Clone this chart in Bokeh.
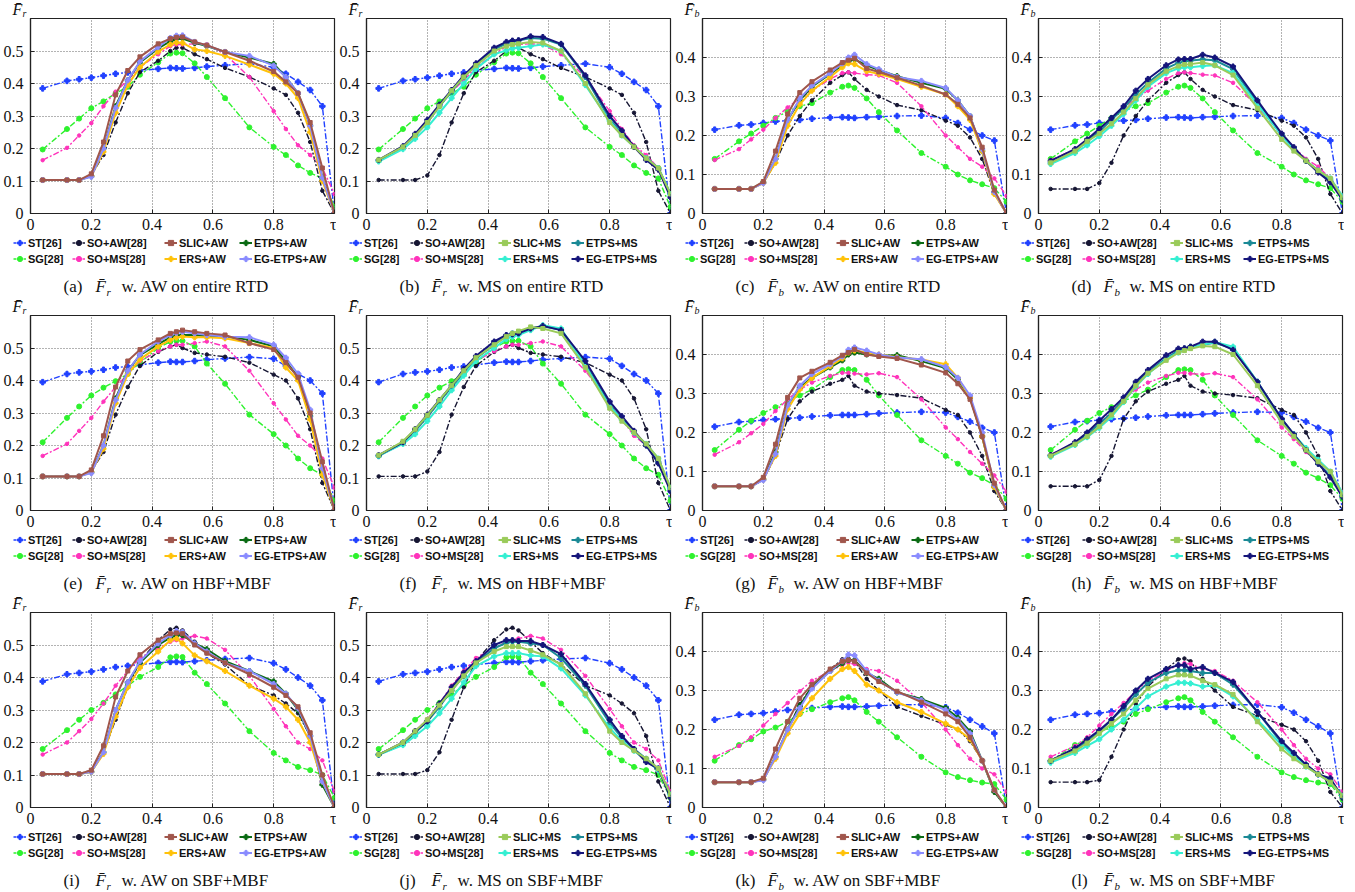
from bokeh.plotting import figure
from bokeh.layouts import column, row
from bokeh.models import Legend, LegendItem, Label, FixedTicker, Range1d, CustomJSTickFormatter
from bokeh.embed import file_html
from bokeh.resources import INLINE

TAU = [0.04, 0.12, 0.16, 0.20, 0.24, 0.28, 0.32, 0.36, 0.42, 0.46, 0.48, 0.50, 0.54, 0.58,
       0.64, 0.72, 0.80, 0.84, 0.88, 0.92, 0.96, 1.00]

# ---------------- F_r on entire RTD ----------------
RTD_FR = dict(
    ST=[0.385,0.408,0.413,0.418,0.424,0.430,0.434,0.440, 0.445,0.448,0.447,0.446,0.448,0.452, 0.456,0.461,0.450,0.430,0.405,0.380,0.330,0.000],
    SG=[0.197,0.260,0.292,0.324,0.345,0.370,0.390,0.427, 0.465,0.492,0.495,0.493,0.462,0.420, 0.355,0.265,0.205,0.180,0.148,0.125,0.108,0.020],
    SOAW=[0.103,0.103,0.103,0.117,0.180,0.280,0.370,0.435, 0.470,0.500,0.510,0.510,0.490,0.475, 0.448,0.420,0.385,0.365,0.310,0.220,0.070,0.000],
    SOMS=[0.164,0.202,0.240,0.278,0.330,0.375,0.410,0.450, 0.490,0.515,0.520,0.520,0.522,0.520, 0.490,0.420,0.315,0.260,0.210,0.180,0.140,0.060],
    SLIC_AW=[0.103,0.103,0.103,0.122,0.220,0.365,0.440,0.482, 0.522,0.538,0.542,0.543,0.528,0.518, 0.497,0.470,0.437,0.405,0.370,0.280,0.140,0.000],
    ETPS_AW=[0.103,0.103,0.103,0.115,0.200,0.330,0.410,0.465, 0.508,0.530,0.537,0.538,0.525,0.515, 0.497,0.480,0.460,0.420,0.370,0.270,0.110,0.000],
    ERS_AW=[0.103,0.103,0.103,0.115,0.190,0.310,0.395,0.450, 0.498,0.520,0.526,0.525,0.505,0.500, 0.485,0.458,0.430,0.400,0.355,0.250,0.100,0.000],
    EGETPS_AW=[0.103,0.103,0.103,0.113,0.200,0.325,0.410,0.468, 0.512,0.540,0.547,0.548,0.528,0.517, 0.497,0.485,0.455,0.420,0.370,0.270,0.110,0.000],
    SLIC_MS=[0.165,0.205,0.240,0.280,0.330,0.378,0.420,0.455, 0.500,0.515,0.520,0.522,0.528,0.525, 0.500,0.400,0.280,0.240,0.205,0.170,0.140,0.060],
    ETPS_MS=[0.163,0.205,0.240,0.280,0.330,0.375,0.420,0.458, 0.505,0.523,0.528,0.532,0.540,0.538, 0.520,0.420,0.290,0.245,0.205,0.170,0.140,0.060],
    ERS_MS=[0.160,0.198,0.230,0.265,0.310,0.355,0.400,0.445, 0.490,0.502,0.508,0.510,0.515,0.520, 0.500,0.395,0.285,0.240,0.205,0.170,0.140,0.060],
    EGETPS_MS=[0.165,0.207,0.245,0.288,0.335,0.380,0.425,0.462, 0.510,0.528,0.532,0.533,0.545,0.543, 0.522,0.425,0.300,0.255,0.205,0.165,0.135,0.050],
)

# ---------------- F_b on entire RTD ----------------
RTD_FB = dict(
    ST=[0.215,0.226,0.228,0.232,0.236,0.238,0.240,0.243, 0.246,0.247,0.246,0.245,0.247,0.248, 0.250,0.251,0.245,0.232,0.215,0.200,0.187,0.000],
    SG=[0.140,0.185,0.205,0.225,0.245,0.262,0.275,0.283, 0.310,0.325,0.328,0.322,0.295,0.260, 0.213,0.155,0.120,0.100,0.085,0.075,0.065,0.030],
    SOAW=[0.063,0.063,0.063,0.078,0.130,0.200,0.250,0.290, 0.335,0.355,0.362,0.345,0.317,0.300, 0.278,0.265,0.238,0.225,0.195,0.140,0.050,0.000],
    SOMS=[0.137,0.165,0.190,0.215,0.245,0.272,0.295,0.315, 0.345,0.360,0.362,0.360,0.356,0.354, 0.335,0.275,0.200,0.170,0.140,0.120,0.090,0.045],
    SLIC_AW=[0.063,0.063,0.063,0.082,0.160,0.255,0.310,0.338, 0.368,0.387,0.393,0.398,0.372,0.363, 0.348,0.328,0.305,0.280,0.245,0.170,0.060,0.000],
    ETPS_AW=[0.063,0.063,0.063,0.080,0.140,0.240,0.290,0.325, 0.358,0.380,0.390,0.395,0.380,0.368, 0.352,0.335,0.320,0.290,0.250,0.160,0.055,0.000],
    ERS_AW=[0.063,0.063,0.063,0.078,0.130,0.225,0.280,0.315, 0.350,0.375,0.385,0.383,0.365,0.358, 0.345,0.325,0.305,0.275,0.240,0.160,0.050,0.000],
    EGETPS_AW=[0.063,0.063,0.063,0.078,0.140,0.240,0.295,0.328, 0.360,0.385,0.400,0.407,0.383,0.370, 0.350,0.340,0.322,0.290,0.250,0.165,0.055,0.000],
    SLIC_MS=[0.130,0.160,0.185,0.205,0.230,0.260,0.295,0.330, 0.365,0.378,0.382,0.383,0.387,0.380, 0.355,0.270,0.190,0.160,0.135,0.110,0.090,0.040],
    ETPS_MS=[0.130,0.160,0.185,0.210,0.240,0.270,0.305,0.335, 0.372,0.386,0.390,0.392,0.395,0.393, 0.370,0.285,0.200,0.165,0.135,0.110,0.085,0.040],
    ERS_MS=[0.127,0.155,0.175,0.198,0.225,0.255,0.290,0.325, 0.360,0.372,0.375,0.375,0.378,0.380, 0.360,0.280,0.200,0.165,0.135,0.110,0.090,0.045],
    EGETPS_MS=[0.135,0.165,0.190,0.217,0.245,0.275,0.315,0.345, 0.380,0.395,0.396,0.396,0.407,0.400, 0.377,0.290,0.205,0.170,0.135,0.105,0.080,0.035],
)

# ---------------- F_r on HBF+MBF ----------------
HM_FR = dict(
    ST=[0.395,0.420,0.425,0.428,0.433,0.440,0.443,0.448, 0.455,0.458,0.457,0.457,0.460,0.464, 0.468,0.472,0.467,0.445,0.420,0.400,0.360,0.000],
    SG=[0.210,0.285,0.320,0.354,0.378,0.398,0.420,0.455, 0.500,0.520,0.522,0.522,0.505,0.452, 0.390,0.295,0.235,0.200,0.160,0.130,0.110,0.030],
    SOAW=[0.105,0.105,0.105,0.120,0.180,0.295,0.380,0.445, 0.488,0.505,0.510,0.500,0.485,0.480, 0.473,0.455,0.418,0.400,0.345,0.250,0.085,0.000],
    SOMS=[0.168,0.205,0.245,0.285,0.335,0.380,0.420,0.460, 0.490,0.505,0.510,0.510,0.515,0.520, 0.505,0.430,0.330,0.280,0.230,0.200,0.160,0.070],
    SLIC_AW=[0.105,0.105,0.105,0.125,0.230,0.380,0.460,0.495, 0.525,0.545,0.550,0.555,0.550,0.545, 0.540,0.515,0.495,0.455,0.410,0.300,0.150,0.000],
    ETPS_AW=[0.105,0.105,0.105,0.118,0.200,0.345,0.430,0.478, 0.512,0.533,0.538,0.540,0.540,0.537, 0.535,0.525,0.505,0.460,0.410,0.290,0.120,0.000],
    ERS_AW=[0.105,0.105,0.105,0.118,0.190,0.330,0.420,0.465, 0.505,0.525,0.532,0.535,0.533,0.533, 0.530,0.515,0.500,0.440,0.400,0.280,0.110,0.000],
    EGETPS_AW=[0.105,0.105,0.105,0.115,0.200,0.340,0.430,0.480, 0.520,0.540,0.547,0.550,0.545,0.540, 0.535,0.533,0.510,0.470,0.420,0.310,0.130,0.000],
    SLIC_MS=[0.170,0.213,0.250,0.293,0.340,0.385,0.430,0.470, 0.510,0.535,0.545,0.552,0.565,0.560, 0.545,0.440,0.315,0.275,0.240,0.205,0.160,0.070],
    ETPS_MS=[0.167,0.210,0.245,0.288,0.335,0.380,0.425,0.468, 0.510,0.538,0.545,0.548,0.560,0.567, 0.555,0.450,0.325,0.280,0.240,0.200,0.150,0.065],
    ERS_MS=[0.168,0.205,0.235,0.275,0.320,0.370,0.415,0.460, 0.500,0.528,0.535,0.540,0.555,0.570, 0.560,0.445,0.320,0.280,0.240,0.205,0.160,0.070],
    EGETPS_MS=[0.170,0.210,0.250,0.295,0.340,0.385,0.435,0.475, 0.520,0.540,0.542,0.545,0.560,0.568, 0.555,0.460,0.335,0.290,0.245,0.200,0.145,0.060],
)

# ---------------- F_b on HBF+MBF ----------------
HM_FB = dict(
    ST=[0.215,0.227,0.229,0.232,0.234,0.236,0.238,0.241, 0.244,0.245,0.245,0.245,0.247,0.249, 0.251,0.253,0.251,0.240,0.228,0.212,0.200,0.000],
    SG=[0.155,0.207,0.230,0.250,0.265,0.280,0.295,0.310, 0.342,0.360,0.362,0.360,0.335,0.295, 0.245,0.180,0.140,0.120,0.097,0.083,0.065,0.030],
    SOAW=[0.062,0.062,0.062,0.078,0.140,0.235,0.280,0.305, 0.325,0.335,0.345,0.320,0.305,0.300, 0.296,0.288,0.258,0.245,0.200,0.140,0.050,0.000],
    SOMS=[0.143,0.175,0.198,0.222,0.255,0.285,0.310,0.328, 0.345,0.353,0.353,0.351,0.349,0.352, 0.342,0.285,0.213,0.183,0.150,0.120,0.090,0.048],
    SLIC_AW=[0.062,0.062,0.062,0.085,0.170,0.290,0.340,0.357, 0.380,0.398,0.405,0.413,0.400,0.395, 0.390,0.373,0.353,0.325,0.285,0.190,0.070,0.000],
    ETPS_AW=[0.062,0.062,0.062,0.080,0.150,0.270,0.315,0.340, 0.367,0.385,0.400,0.405,0.400,0.397, 0.398,0.383,0.365,0.335,0.290,0.190,0.060,0.000],
    ERS_AW=[0.062,0.062,0.062,0.080,0.140,0.260,0.310,0.340, 0.370,0.390,0.405,0.410,0.405,0.400, 0.393,0.387,0.375,0.340,0.290,0.190,0.060,0.000],
    EGETPS_AW=[0.062,0.062,0.062,0.078,0.145,0.270,0.320,0.350, 0.375,0.395,0.412,0.418,0.410,0.400, 0.392,0.388,0.368,0.340,0.295,0.200,0.065,0.000],
    SLIC_MS=[0.140,0.170,0.190,0.215,0.245,0.280,0.320,0.352, 0.385,0.405,0.410,0.415,0.422,0.420, 0.400,0.320,0.225,0.190,0.155,0.125,0.100,0.040],
    ETPS_MS=[0.140,0.170,0.195,0.222,0.250,0.285,0.325,0.355, 0.390,0.410,0.415,0.420,0.425,0.430, 0.415,0.330,0.235,0.195,0.155,0.120,0.090,0.040],
    ERS_MS=[0.138,0.168,0.188,0.212,0.240,0.278,0.318,0.350, 0.388,0.405,0.412,0.417,0.425,0.432, 0.420,0.330,0.230,0.195,0.160,0.130,0.100,0.045],
    EGETPS_MS=[0.142,0.175,0.200,0.230,0.260,0.290,0.330,0.360, 0.398,0.415,0.416,0.420,0.433,0.433, 0.412,0.330,0.235,0.195,0.155,0.120,0.085,0.035],
)

# ---------------- F_r on SBF+MBF ----------------
SM_FR = dict(
    ST=[0.388,0.410,0.414,0.418,0.425,0.432,0.436,0.440, 0.445,0.448,0.448,0.447,0.450,0.453, 0.457,0.460,0.444,0.425,0.400,0.375,0.330,0.000],
    SG=[0.180,0.238,0.270,0.300,0.322,0.348,0.375,0.402, 0.432,0.462,0.465,0.463,0.415,0.380, 0.320,0.235,0.168,0.145,0.125,0.115,0.100,0.030],
    SOAW=[0.103,0.103,0.103,0.115,0.170,0.270,0.370,0.450, 0.515,0.548,0.553,0.545,0.510,0.475, 0.440,0.375,0.345,0.320,0.290,0.220,0.080,0.000],
    SOMS=[0.163,0.200,0.235,0.272,0.320,0.375,0.420,0.460, 0.490,0.510,0.515,0.520,0.528,0.520, 0.485,0.405,0.303,0.250,0.200,0.180,0.145,0.050],
    SLIC_AW=[0.103,0.103,0.103,0.115,0.190,0.340,0.420,0.470, 0.515,0.535,0.537,0.535,0.500,0.475, 0.445,0.410,0.370,0.345,0.310,0.230,0.100,0.000],
    ETPS_AW=[0.103,0.103,0.103,0.110,0.170,0.300,0.385,0.445, 0.500,0.523,0.530,0.530,0.505,0.487, 0.450,0.420,0.388,0.350,0.300,0.220,0.070,0.000],
    ERS_AW=[0.103,0.103,0.103,0.110,0.165,0.280,0.370,0.430, 0.480,0.515,0.520,0.505,0.468,0.450, 0.420,0.375,0.335,0.310,0.270,0.200,0.080,0.000],
    EGETPS_AW=[0.103,0.103,0.103,0.110,0.170,0.300,0.385,0.450, 0.505,0.530,0.543,0.540,0.505,0.480, 0.445,0.420,0.380,0.350,0.305,0.220,0.080,0.000],
    SLIC_MS=[0.163,0.200,0.235,0.270,0.315,0.360,0.405,0.445, 0.480,0.495,0.495,0.495,0.483,0.470, 0.440,0.350,0.235,0.200,0.175,0.150,0.120,0.040],
    ETPS_MS=[0.163,0.195,0.230,0.265,0.310,0.360,0.405,0.445, 0.490,0.507,0.510,0.510,0.505,0.500, 0.460,0.375,0.260,0.215,0.180,0.150,0.120,0.040],
    ERS_MS=[0.162,0.192,0.220,0.250,0.290,0.335,0.385,0.435, 0.465,0.475,0.475,0.475,0.468,0.465, 0.428,0.345,0.245,0.205,0.175,0.145,0.115,0.040],
    EGETPS_MS=[0.163,0.200,0.235,0.265,0.320,0.370,0.415,0.450, 0.500,0.515,0.515,0.512,0.512,0.500, 0.472,0.380,0.270,0.220,0.180,0.140,0.120,0.030],
)

# ---------------- F_b on SBF+MBF ----------------
SM_FB = dict(
    ST=[0.225,0.238,0.240,0.242,0.246,0.250,0.252,0.255, 0.258,0.259,0.258,0.258,0.259,0.261, 0.263,0.264,0.257,0.243,0.225,0.208,0.190,0.000],
    SG=[0.120,0.160,0.175,0.195,0.205,0.220,0.240,0.252, 0.270,0.280,0.283,0.275,0.245,0.220, 0.180,0.130,0.090,0.078,0.070,0.064,0.060,0.020],
    SOAW=[0.065,0.065,0.065,0.070,0.130,0.200,0.265,0.310, 0.355,0.380,0.382,0.375,0.330,0.300, 0.258,0.235,0.212,0.200,0.170,0.120,0.040,0.000],
    SOMS=[0.130,0.158,0.180,0.210,0.240,0.268,0.298,0.325, 0.350,0.365,0.370,0.368,0.355,0.350, 0.325,0.270,0.200,0.160,0.125,0.100,0.085,0.040],
    SLIC_AW=[0.065,0.065,0.065,0.075,0.150,0.220,0.280,0.315, 0.355,0.375,0.378,0.375,0.345,0.323, 0.298,0.270,0.240,0.220,0.180,0.120,0.045,0.000],
    ETPS_AW=[0.065,0.065,0.065,0.072,0.130,0.200,0.260,0.310, 0.350,0.370,0.378,0.378,0.345,0.330, 0.295,0.278,0.255,0.230,0.195,0.120,0.040,0.000],
    ERS_AW=[0.065,0.065,0.065,0.072,0.125,0.190,0.240,0.280, 0.330,0.355,0.360,0.350,0.315,0.300, 0.270,0.245,0.215,0.200,0.175,0.120,0.045,0.000],
    EGETPS_AW=[0.065,0.065,0.065,0.070,0.130,0.200,0.255,0.305, 0.350,0.375,0.392,0.390,0.350,0.325, 0.295,0.275,0.250,0.225,0.190,0.120,0.045,0.000],
    SLIC_MS=[0.120,0.145,0.165,0.190,0.215,0.240,0.275,0.305, 0.330,0.340,0.340,0.338,0.325,0.315, 0.290,0.220,0.150,0.125,0.105,0.085,0.065,0.030],
    ETPS_MS=[0.118,0.148,0.170,0.195,0.225,0.255,0.290,0.320, 0.345,0.352,0.352,0.350,0.345,0.345, 0.315,0.245,0.165,0.135,0.110,0.085,0.070,0.030],
    ERS_MS=[0.115,0.140,0.158,0.175,0.200,0.225,0.255,0.285, 0.310,0.320,0.320,0.318,0.310,0.313, 0.285,0.225,0.160,0.130,0.105,0.085,0.065,0.030],
    EGETPS_MS=[0.120,0.152,0.175,0.198,0.225,0.260,0.300,0.330, 0.355,0.365,0.365,0.355,0.360,0.345, 0.322,0.245,0.170,0.140,0.110,0.085,0.075,0.025],
)

LABELS = {
    "ST": "ST[26]", "SG": "SG[28]", "SOAW": "SO+AW[28]", "SOMS": "SO+MS[28]",
    "SLIC_AW": "SLIC+AW", "ETPS_AW": "ETPS+AW", "ERS_AW": "ERS+AW", "EGETPS_AW": "EG-ETPS+AW",
    "SLIC_MS": "SLIC+MS", "ETPS_MS": "ETPS+MS", "ERS_MS": "ERS+MS", "EGETPS_MS": "EG-ETPS+MS",
}

# color, dashed?, marker, marker size
STYLE = {
    "ST": ("#2040ff", True, "plus", 5.5),
    "SG": ("#2ef22e", True, "circle", 5),
    "SOAW": ("#161633", True, "circle", 3.5),
    "SOMS": ("#ff33bb", True, "circle", 3.5),
    "SLIC_AW": ("#a0564c", False, "square", 4),
    "ETPS_AW": ("#0b6b14", False, "plus", 5),
    "ERS_AW": ("#ffc20a", False, "plus", 5),
    "EGETPS_AW": ("#8a8cff", False, "plus", 5),
    "SLIC_MS": ("#9acb5a", False, "square", 4),
    "ETPS_MS": ("#1b8a96", False, "plus", 5),
    "ERS_MS": ("#35efd2", False, "plus", 5),
    "EGETPS_MS": ("#15157a", False, "plus", 5),
}

PANELS = [
    [("a", RTD_FR, "r", "AW", "entire RTD"), ("b", RTD_FR, "r", "MS", "entire RTD"),
     ("c", RTD_FB, "b", "AW", "entire RTD"), ("d", RTD_FB, "b", "MS", "entire RTD")],
    [("e", HM_FR, "r", "AW", "HBF+MBF"), ("f", HM_FR, "r", "MS", "HBF+MBF"),
     ("g", HM_FB, "b", "AW", "HBF+MBF"), ("h", HM_FB, "b", "MS", "HBF+MBF")],
    [("i", SM_FR, "r", "AW", "SBF+MBF"), ("j", SM_FR, "r", "MS", "SBF+MBF"),
     ("k", SM_FB, "b", "AW", "SBF+MBF"), ("l", SM_FB, "b", "MS", "SBF+MBF")],
]

FW, FH = 304, 195
BL, BR = 30, 2
PW = BL + FW + BR          # 336
HEAD_H, AX_H, FOOT_H = 18, 22, 62
SERIF = "'Liberation Serif', serif"
SANS = "'Liberation Sans', sans-serif"
INK = "#111111"

fmt = CustomJSTickFormatter(code="""
if (Math.abs(tick) < 1e-9) { return "0"; }
if (Math.abs(tick - 1) < 1e-9) { return "\u03c4"; }
return tick.toFixed(1);
""")


def blank(h):
    f = figure(width=PW, height=h, x_range=Range1d(0, PW), y_range=Range1d(0, h),
               output_backend="svg", toolbar_location=None, x_axis_type=None, y_axis_type=None,
               min_border=0, min_border_left=0, min_border_right=0, min_border_top=0,
               min_border_bottom=0, frame_align=False)
    f.outline_line_color = None
    f.xgrid.visible = False
    f.ygrid.visible = False
    return f


def lab(x, y, text, size, italic=False, font=SERIF):
    return Label(x=x, y=y, text=text, text_font=font, text_font_size=size,
                 text_font_style="italic" if italic else "normal", text_color=INK,
                 text_align="left", text_baseline="bottom")


def make_panel(letter, data, metric, variant, dname):
    ymax = 0.6 if metric == "r" else 0.5
    yticks = [0, 0.1, 0.2, 0.3, 0.4, 0.5] if metric == "r" else [0, 0.1, 0.2, 0.3, 0.4]

    # header with the y-axis symbol
    head = blank(HEAD_H)
    head.add_layout(lab(12, 0.5, "F\u0304", "16px", italic=True))
    head.add_layout(lab(22, 0, metric, "10px", italic=True))

    # main plot
    p = figure(frame_width=FW, frame_height=FH,
               x_range=Range1d(0, 1), y_range=Range1d(0, ymax),
               output_backend="svg", toolbar_location=None, frame_align=False,
               min_border_left=BL, min_border_right=BR, min_border_top=0, min_border_bottom=AX_H)
    p.xaxis.ticker = FixedTicker(ticks=[0, 0.2, 0.4, 0.6, 0.8, 1.0])
    p.yaxis.ticker = FixedTicker(ticks=yticks)
    p.xgrid.ticker = FixedTicker(ticks=[0.2, 0.4, 0.6, 0.8])
    p.ygrid.ticker = FixedTicker(ticks=yticks[1:])
    for ax in (p.xaxis[0], p.yaxis[0]):
        ax.formatter = fmt
        ax.major_label_text_font = SERIF
        ax.major_label_text_font_size = "16px"
        ax.major_label_text_color = INK
        ax.major_tick_in = 4
        ax.major_tick_out = 0
        ax.minor_tick_line_color = None
        ax.axis_line_color = "#222222"
        ax.major_tick_line_color = "#222222"
        ax.axis_line_width = 1.2
    p.xaxis[0].major_label_standoff = 2
    p.yaxis[0].major_label_standoff = 7
    for g in (p.xgrid[0], p.ygrid[0]):
        g.grid_line_color = "#666666"
        g.grid_line_dash = "1 2"
        g.grid_line_width = 1
    p.outline_line_color = "#222222"
    p.outline_line_width = 1.2
    p.outline_line_alpha = 1

    keys = ["ST", "SG", "SOAW", "SOMS"] + [k + "_" + variant for k in ("ETPS", "ERS", "EGETPS", "SLIC")]
    for k in keys:
        col, dashed, mk, ms = STYLE[k]
        ys = data[k]
        p.line(TAU, ys, line_color=col, line_width=1.4 if dashed else 2.0,
               line_dash="6 2 2 2" if dashed else "solid")
        p.scatter(TAU, ys, marker=mk, size=ms, fill_color=col, line_color=col)

    # footer: legend + caption (hidden copies of the series feed the legend glyphs)
    foot = blank(FOOT_H)
    proxy = {}
    for k in keys:
        col, dashed, mk, ms = STYLE[k]
        ys = data[k]
        ln = foot.line(TAU, ys, line_color=col, line_width=1.6 if dashed else 2.0,
                       line_dash="3 2" if dashed else "solid", visible=False)
        sc = foot.scatter(TAU, ys, marker=mk, size=ms, fill_color=col, line_color=col, visible=False)
        proxy[k] = [ln, sc]
    cols = [["ST", "SG"], ["SOAW", "SOMS"],
            ["SLIC_" + variant, "ERS_" + variant], ["ETPS_" + variant, "EGETPS_" + variant]]
    xs = [13, 72, 164, 239] if variant == "AW" else [13, 74, 162, 235]
    for cx, ck in zip(xs, cols):
        leg = Legend(items=[LegendItem(label=LABELS[k], renderers=proxy[k]) for k in ck],
                     location=(cx, FOOT_H - 1 - 29), orientation="vertical",
                     label_text_font=SANS, label_text_font_style="bold",
                     label_text_font_size="11px", label_text_color=INK,
                     glyph_width=13, glyph_height=13, label_height=13, spacing=3,
                     label_standoff=2, padding=0, margin=0,
                     inactive_fill_alpha=0, click_policy="none",
                     border_line_alpha=0, background_fill_alpha=0)
        foot.add_layout(leg)

    yb = 1.5
    foot.add_layout(lab(63, yb, "(%s)" % letter, "17px"))
    foot.add_layout(lab(95, yb, "F\u0304", "17px", italic=True))
    foot.add_layout(lab(106, 0, metric, "11px", italic=True))
    foot.add_layout(lab(121, yb, "w. %s on %s" % (variant, dname), "17px"))

    return column(head, p, foot, spacing=0)


layout = column([row([make_panel(*spec) for spec in r], spacing=0) for r in PANELS], spacing=0)

open("out.html", "w").write(file_html(layout, INLINE, "chart"))
